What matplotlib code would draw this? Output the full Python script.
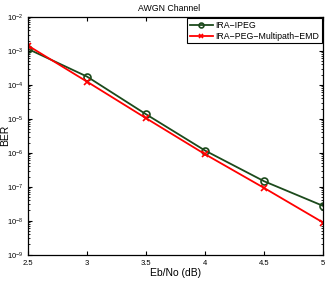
import matplotlib
matplotlib.use("Agg")
import matplotlib.pyplot as plt
from matplotlib.ticker import LogLocator, NullFormatter

plt.rcParams['font.family'] = ['Liberation Sans', 'DejaVu Sans']

# Eb/No (dB) y BER
ebno = [2.5, 3.0, 3.5, 4.0, 4.5, 5.0]
ber_ipeg = [1.14e-3, 1.75e-4, 1.36e-5, 1.16e-6, 1.45e-7, 2.72e-8]
ber_emd = [1.43e-3, 1.24e-4, 1.04e-5, 9.06e-7, 9.2e-8, 8.8e-9]
xticks = [2.5, 3, 3.5, 4, 4.5, 5]
xtick_labels = ['2.5', '3', '3.5', '4', '4.5', '5']

fig = plt.figure(figsize=(3.32, 2.82), dpi=100)
ax = fig.add_axes([0.0843, 0.097, 0.889, 0.843])

ax.semilogy(ebno, ber_ipeg, color='#1c4a1c', marker='o', markersize=5,
            markerfacecolor='none', markeredgewidth=1.2, linewidth=1.3, label='IRA\u2212IPEG')
ax.semilogy(ebno, ber_emd, color='#ff0000', marker='x', markersize=5,
            markeredgewidth=1.2, linewidth=1.3, label='IRA\u2212PEG\u2212Multipath\u2212EMD')

ax.set_xlim(2.5, 5)
ax.set_ylim(1e-9, 1e-2)
ax.set_xticks(xticks)
ax.set_xticklabels(xtick_labels)
ax.yaxis.set_major_locator(LogLocator(base=10, numticks=20))
ax.yaxis.set_minor_locator(LogLocator(base=10, subs=range(2, 10), numticks=20))
ax.yaxis.set_minor_formatter(NullFormatter())
ax.tick_params(which='both', direction='in', top=True, right=True, labelsize=5.5)
ax.tick_params(which='major', length=3)
ax.tick_params(which='minor', length=1.5)
for s in ax.spines.values():
    s.set_linewidth(0.9)

ax.set_title('AWGN Channel', fontsize=6.3, pad=4, x=0.478)
ax.set_xlabel('Eb/No (dB)', fontsize=7.5, labelpad=1)
ax.set_ylabel('BER', fontsize=7.5)
ax.yaxis.set_label_coords(-0.062, 0.5)

leg = ax.legend(loc='upper right', fontsize=6.3, fancybox=False, framealpha=1,
                edgecolor='black', borderpad=0.3, labelspacing=0.2, handlelength=2.6,
                handletextpad=0.3, borderaxespad=0.15, markerscale=0.7)
leg.get_frame().set_linewidth(0.8)

fig.savefig('out.png', dpi=100)
